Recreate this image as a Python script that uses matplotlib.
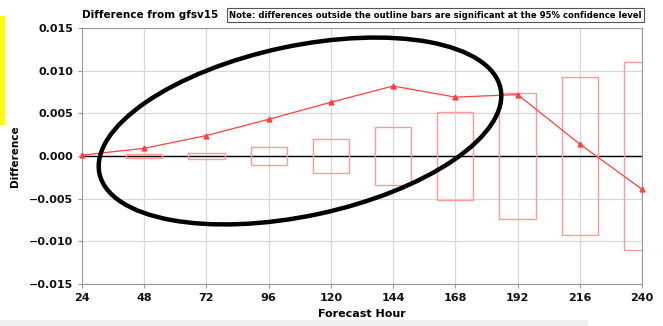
import matplotlib
matplotlib.use("Agg")
import matplotlib.pyplot as plt
from matplotlib.patches import Ellipse, Rectangle

hours = [24, 48, 72, 96, 120, 144, 168, 192, 216, 240]
diff = [0.0001, 0.0009, 0.0024, 0.0043, 0.0063, 0.0082, 0.0069, 0.0072, 0.0014, -0.0039]
bar_hours = [48, 72, 96, 120, 144, 168, 192, 216, 240]
sig = [0.0002, 0.0004, 0.00105, 0.002, 0.0034, 0.0052, 0.0074, 0.0093, 0.011]
xticks = [24, 48, 72, 96, 120, 144, 168, 192, 216, 240]
yticks = [-0.015, -0.010, -0.005, 0.000, 0.005, 0.010, 0.015]

W, H = 663, 326
fig = plt.figure(figsize=(W / 100, H / 100), dpi=100)
ax = fig.add_axes([82 / W, 1 - 284 / H, (642 - 82) / W, (284 - 28) / H])

ax.set_xlim(24, 240)
ax.set_ylim(-0.015, 0.015)
ax.set_xticks(xticks)
ax.set_yticks(yticks)
ax.set_yticklabels([f"{v:.3f}".replace("-", "\u2212") for v in yticks])
ax.grid(True, color="#d8d8d8", linewidth=0.9)
ax.set_axisbelow(True)
for s in ax.spines.values():
    s.set_color("#999999")
ax.tick_params(colors="#999999", labelcolor="#111111", length=3)
for lab in ax.get_xticklabels() + ax.get_yticklabels():
    lab.set_fontweight("bold")
    lab.set_fontsize(8)

ax.axhline(0, color="black", linewidth=1.0, zorder=2)

bw = 14
for h, s in zip(bar_hours, sig):
    ax.add_patch(Rectangle((h - bw / 2, -s), bw, 2 * s, fill=False,
                           edgecolor="#ff9a9a", linewidth=1.0, zorder=3))

ax.plot(hours, diff, color="#ff4040", linewidth=0.9, marker="^", markersize=3.5,
        zorder=4, clip_on=False)

ax.set_xlabel("Forecast Hour", fontsize=8, fontweight="bold", labelpad=4)
ax.set_ylabel("Difference", fontsize=7.5, fontweight="bold", labelpad=6)

fig.text(82 / W, 1 - 15 / H, "Difference from gfsv15", fontsize=7.5, fontweight="bold",
         va="center", ha="left")
fig.text(435.5 / W, 1 - 15 / H,
         "Note: differences outside the outline bars are significant at the 95% confidence level",
         fontsize=6.15, fontweight="bold", va="center", ha="center",
         bbox=dict(boxstyle="square,pad=0.25", facecolor="white", edgecolor="#555555", linewidth=0.8))

# annotation ellipse
ell = Ellipse((300, H - 131), width=410, height=170, angle=12, fill=False,
              edgecolor="black", linewidth=3.2, transform=None, zorder=10)
fig.add_artist(ell)
# yellow marker on left edge
fig.add_artist(Rectangle((0, H - 125), 4.5, 109, facecolor="#ffff00", edgecolor="none",
                         transform=None))
# gray band at bottom
fig.add_artist(Rectangle((0, 0), 588, 6, facecolor="#efefef", edgecolor="none",
                         transform=None))

fig.savefig("out.png", dpi=100)
